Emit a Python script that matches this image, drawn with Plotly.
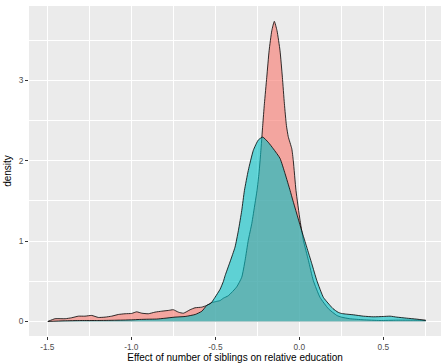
import plotly.graph_objects as go

# Red (first group) density curve
red_x = [-1.497, -1.454, -1.394, -1.355, -1.315, -1.276, -1.236, -1.196, -1.156, -1.117,
         -1.077, -1.037, -0.998, -0.968, -0.938, -0.899, -0.859, -0.819, -0.780, -0.750,
         -0.720, -0.690, -0.650, -0.621, -0.581, -0.551, -0.521, -0.492, -0.472, -0.452,
         -0.423, -0.373, -0.343, -0.323, -0.304, -0.283, -0.264, -0.252, -0.240, -0.230,
         -0.218, -0.208, -0.194, -0.180, -0.164, -0.149, -0.133, -0.115, -0.101, -0.089,
         -0.077, -0.066, -0.045, -0.036, -0.020, 0.004, 0.014, 0.024, 0.054, 0.083,
         0.123, 0.173, 0.223, 0.250, 0.300, 0.380, 0.480, 0.580, 0.680, 0.752]
red_y = [0.0, 0.034, 0.034, 0.046, 0.066, 0.066, 0.075, 0.050, 0.054, 0.066,
         0.087, 0.096, 0.100, 0.120, 0.103, 0.096, 0.116, 0.128, 0.137, 0.146,
         0.116, 0.103, 0.146, 0.170, 0.178, 0.200, 0.235, 0.250, 0.260, 0.290,
         0.320, 0.430, 0.550, 0.760, 1.010, 1.220, 1.470, 1.630, 1.850, 2.100,
         2.440, 2.710, 3.040, 3.370, 3.620, 3.736, 3.620, 3.370, 3.040, 2.710,
         2.440, 2.300, 2.150, 2.000, 1.630, 1.260, 1.130, 1.010, 0.760, 0.510,
         0.300, 0.158, 0.075, 0.054, 0.034, 0.021, 0.012, 0.016, 0.016, 0.014]

# Cyan (second group) density curve
cyan_x = [-1.497, -1.400, -1.300, -1.200, -1.100, -1.000, -0.950, -0.900, -0.850, -0.800,
          -0.740, -0.680, -0.620, -0.580, -0.551, -0.532, -0.521, -0.502, -0.472, -0.452,
          -0.442, -0.413, -0.383, -0.363, -0.343, -0.327, -0.304, -0.274, -0.244, -0.218,
          -0.185, -0.155, -0.115, -0.085, -0.055, -0.039, 0.014, 0.044, 0.074, 0.104,
          0.143, 0.170, 0.200, 0.230, 0.250, 0.282, 0.321, 0.381, 0.440, 0.500,
          0.540, 0.580, 0.639, 0.699, 0.752]
cyan_y = [0.0, 0.008, 0.012, 0.012, 0.015, 0.020, 0.025, 0.028, 0.030, 0.040,
          0.054, 0.062, 0.087, 0.128, 0.200, 0.220, 0.240, 0.300, 0.400, 0.500,
          0.570, 0.740, 0.925, 1.130, 1.380, 1.630, 1.880, 2.130, 2.260, 2.295,
          2.230, 2.150, 2.030, 1.840, 1.630, 1.510, 1.130, 0.925, 0.720, 0.510,
          0.300, 0.230, 0.160, 0.115, 0.100, 0.091, 0.083, 0.066, 0.058, 0.062,
          0.066, 0.054, 0.041, 0.029, 0.014]

x_ticks = [-1.5, -1.0, -0.5, 0.0, 0.5]
x_tick_text = ["-1.5", "-1.0", "-0.5", "0.0", "0.5"]
y_ticks = [0, 1, 2, 3]
y_tick_text = ["0", "1", "2", "3"]

FONT = "Liberation Sans, Arial, sans-serif"

fig = go.Figure()
fig.add_trace(go.Scatter(x=red_x, y=red_y, mode="lines", fill="tozeroy",
                         line=dict(color="black", width=0.8, shape="spline", smoothing=0.5),
                         fillcolor="rgba(248,118,109,0.6)", showlegend=False, hoverinfo="skip"))
fig.add_trace(go.Scatter(x=cyan_x, y=cyan_y, mode="lines", fill="tozeroy",
                         line=dict(color="black", width=0.8, shape="spline", smoothing=0.5),
                         fillcolor="rgba(0,191,196,0.6)", showlegend=False, hoverinfo="skip"))

fig.update_layout(
    width=441, height=364,
    margin=dict(l=29, r=0, t=6, b=28),
    paper_bgcolor="white", plot_bgcolor="#EBEBEB",
    font=dict(family=FONT, color="black"),
    xaxis=dict(range=[-1.609, 0.843], tickvals=x_ticks, ticktext=x_tick_text,
               showgrid=True, gridcolor="white", gridwidth=1.1, zeroline=False,
               ticks="outside", ticklen=3, tickcolor="#333333", tickwidth=1,
               tickfont=dict(size=8.3, color="#4D4D4D", family=FONT),
               minor=dict(tickvals=[-1.25, -0.75, -0.25, 0.25, 0.75], showgrid=True,
                          gridcolor="white", gridwidth=0.5, ticks=""),
               title=dict(text="Effect of number of siblings on relative education",
                          font=dict(size=10, color="black", family=FONT), standoff=2),
               automargin=False),
    yaxis=dict(range=[-0.181, 3.927], tickvals=y_ticks, ticktext=y_tick_text,
               showgrid=True, gridcolor="white", gridwidth=1.1, zeroline=False,
               ticks="outside", ticklen=3, tickcolor="#333333", tickwidth=1,
               tickfont=dict(size=8.3, color="#4D4D4D", family=FONT),
               minor=dict(tickvals=[0.5, 1.5, 2.5, 3.5], showgrid=True,
                          gridcolor="white", gridwidth=0.5, ticks=""),
               title=dict(text="density", font=dict(size=10, color="black", family=FONT),
                          standoff=5),
               automargin=False),
)

fig.write_html("out.html", config={"displayModeBar": False},
               post_script="document.body.style.margin='0';document.body.style.overflow='hidden';")
